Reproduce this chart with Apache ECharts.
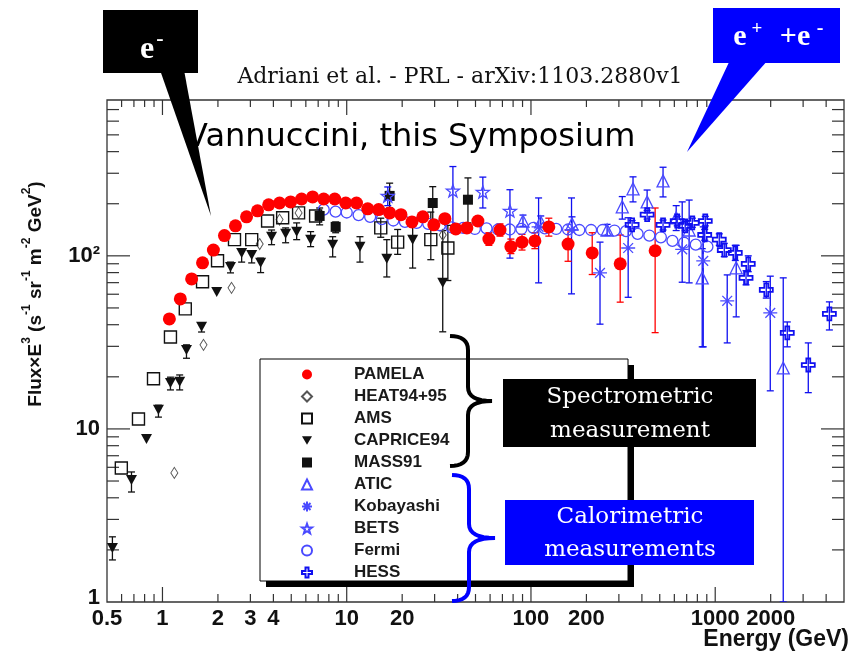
<!DOCTYPE html>
<html><head><meta charset="utf-8">
<script src="https://cdn.jsdelivr.net/npm/echarts@6/dist/echarts.min.js"></script>
<style>html,body{margin:0;padding:0;background:#fff}#c{width:855px;height:654px}</style>
</head><body><div id="c"></div>
<script>
// ---------- axes ----------
const X_MIN = 0.5, X_MAX = 5000, Y_MIN = 1, Y_MAX = 795;
const xMajorTicks = [1, 10, 100, 1000];
const yMajorTicks = [10, 100];
const minorMantissas = [2, 3, 4, 5, 6, 7, 8, 9];
const xTickLabels = [0.5, 1, 2, 3, 4, 10, 20, 100, 200, 1000, 2000];
const yTickLabels = [1, 10, 100];
const yTickText = ['1', '10', '10²'];

// ---------- data (E in GeV, Flux×E³) ----------
const pamelaE = [1.09,1.25,1.44,1.65,1.89,2.17,2.49,2.86,3.28,3.77,4.32,4.96,5.69,6.53,7.50,8.61,9.88,11.3,13.0,14.9,17.1,19.7,22.6,25.9,29.7,34.1,39.1,44.9,51.5,59.1,67.9,77.8,89.4,105,125,159,215,305,472];
const pamelaF = [43.2,56.4,73.6,91.1,108,131,149,168,182,197,202,205,213,219,213,213,202,202,187,185,177,173,157,168,151,164,143,145,159,125,141,113,120,122,147,117,104,89.9,107];
const pamelaLo = [null,null,null,null,null,null,null,null,null,null,null,null,null,null,null,null,null,null,null,null,null,null,null,null,null,null,null,null,null,115,130,103,108,110,130,93,78,54,36];
const pamelaHi = [null,null,null,null,null,null,null,null,null,null,null,null,null,null,null,null,null,null,null,null,null,null,null,null,null,null,null,null,null,136,153,125,133,136,165,141,136,132,189];

const heatE = [1.16,1.67,2.37,3.37,4.32,5.48,33.2];
const heatF = [5.57,30.6,65.3,117,162,177,132];

const amsE = [0.598,0.741,0.894,1.105,1.33,1.65,1.99,2.46,3.05,3.72,4.49,5.48,6.78,15.3,18.9,28.6,35.4];
const amsF = [5.95,11.4,19.5,34.0,49.4,70.8,93.6,124,124,159,166,177,170,145,120,124,111];
const amsLo = [null,null,null,null,null,null,null,null,null,null,null,null,null,128,102,95,72];
const amsHi = [null,null,null,null,null,null,null,null,null,null,null,null,null,165,142,179,150];

const capriceE = [0.535,0.679,0.819,0.951,1.105,1.24,1.35,1.63,1.97,2.34,2.69,3.05,3.41,3.91,4.66,5.35,6.37,8.39,11.8,16.5,22.8,33.2];
const capriceF = [2.05,5.07,8.75,12.9,18.4,18.7,28.6,38.9,61.9,86.3,104,101,91.1,129,134,138,124,116,113,96.1,124,69.8];
const capriceLo = [1.75,4.32,null,11.7,16.8,16.8,25.6,36.3,null,79.7,92,91,80,116,119,124,113,98.6,92,75.5,85,36.4];
const capriceHi = [2.38,5.64,null,13.7,19.9,20.5,30.6,40.9,null,92,109,107,97,141,145,155,138,129,129,124,157,140];

const massE = [7.13,8.71,17.1,29.3,45.5];
const massF = [170,147,222,202,211];
const massLo = [151,136,189,157,155];
const massHi = [189,157,263,251,282];

const aticE = [90.5,113,167,259,313,358,427,521,614,722,850,1300,2340];
const aticF = [159,157,153,141,192,244,205,271,166,141,74.6,85.3,22.5];
const aticLo = [148,146,140,131,163,205,177,219,140,69.8,29.8,44.4,1];
const aticHi = [172,170,168,152,220,286,240,325,195,210,110,115,74.6];

const kobE = [110,166,237,337,662,861,1162,1990];
const kobF = [147,141,79.7,111,109,93.5,55,46.8];
const kobLo = [69.8,60.3,40.3,57.6,70.4,29.8,31.4,16.6];
const kobHi = [216,216,120,166,205,147,77.6,76.3];

const betsE = [16.7,37.7,54.8,76.9];
const betsF = [222,238,234,182];
const betsLo = [195,141,189,97];
const betsHi = [250,328,285,241];

const fermiE = [7.5,8.7,10,11.6,13.4,15.5,17.9,20.7,24,27.7,32.1,37.1,42.9,49.6,57.4,66.3,76.7,88.7,103,119,137,159,183,212,245,284,328,379,439,507,586,678,784,907];
const fermiF = [185,180,178,172,168,163,160,157,155,153,150,146,145,143,144,142,142,143,145,144,143,142,141,141,141,140,139,134,131,128,122,119,116,113];

const hessE = [354,427,521,622,687,751,883,877,1052,1120,1285,1511,1470,1893,2461,3200,4165];
const hessF = [151,173,151,159,149,155,159,132,124,108,104,89.9,74.6,63.6,35.9,23.4,46.2];
const hessLo = [143,163,141,149,140,146,149,123,115,99,94,81,68,57,29.8,16.2,37.3];
const hessHi = [160,183,161,169,158,165,169,142,134,118,115,100,82,71,41.5,31.4,54.2];

const legendNames = ['PAMELA','HEAT94+95','AMS','CAPRICE94','MASS91','ATIC','Kobayashi','BETS','Fermi','HESS'];

// ---------- helpers ----------
const zip = (a, b) => a.map((v, i) => [v, b[i]]);
const errData = (e, lo, hi) => e.map((v, i) => [v, lo[i], hi[i]]).filter(d => d[1] != null);

function minorTicks(lo, hi) {
  const out = [];
  for (let d = 0.1; d < hi; d *= 10) {
    for (const m of minorMantissas) {
      const v = +(m * d).toPrecision(3);
      if (v > lo && v < hi) out.push(v);
    }
  }
  return out;
}

// curly brace outline as a polyline (quadratic corners)
function quad(p0, c, p1, n) {
  const out = [];
  for (let i = 1; i <= n; i++) {
    const t = i / n, u = 1 - t;
    out.push([u * u * p0[0] + 2 * u * t * c[0] + t * t * p1[0], u * u * p0[1] + 2 * u * t * c[1] + t * t * p1[1]]);
  }
  return out;
}
function bracePoints(x0, xv, xTip, yTop, yMid, yBot, r) {
  let pts = [[x0, yTop]];
  pts = pts.concat(quad([x0, yTop], [xv, yTop], [xv, yTop + r], 8));
  pts.push([xv, yMid - r]);
  pts = pts.concat(quad([xv, yMid - r], [xv, yMid], [xTip, yMid], 8));
  pts = pts.concat(quad([xTip, yMid], [xv, yMid], [xv, yMid + r], 8));
  pts.push([xv, yBot - r]);
  pts = pts.concat(quad([xv, yBot - r], [xv, yBot], [x0, yBot], 8));
  return pts;
}

function errSeries(data, color, lw, z) {
  return {
    type: 'custom', silent: true, clip: true, z: z || 2, data: data,
    encode: {x: 0, y: [1, 2]},
    renderItem: function (params, api) {
      const x = api.value(0);
      const lo = Math.max(api.value(1), Y_MIN), hi = api.value(2);
      const a = api.coord([x, hi]), b = api.coord([x, lo]);
      const st = {stroke: color, lineWidth: lw};
      const cap = 3.5;
      return {type: 'group', children: [
        {type: 'line', shape: {x1: a[0], y1: a[1], x2: b[0], y2: b[1]}, style: st},
        {type: 'line', shape: {x1: a[0] - cap, y1: a[1], x2: a[0] + cap, y2: a[1]}, style: st},
        {type: 'line', shape: {x1: b[0] - cap, y1: b[1], x2: b[0] + cap, y2: b[1]}, style: st}
      ]};
    }
  };
}

const BLUE = '#1010f0', LBLUE = '#4a4aff';
const asteriskPath = 'path://M10,0L10,20M0,10L20,10M3,3L17,17M3,17L17,3';
const starPath = 'path://M10,0L12.35,6.76L19.51,6.91L13.8,11.24L15.88,18.09L10,14L4.12,18.09L6.2,11.24L0.49,6.91L7.65,6.76Z';
const plusPath = 'path://M7,0L13,0L13,7L20,7L20,13L13,13L13,20L7,20L7,13L0,13L0,7L7,7Z';
const downTriPath = 'path://M0,0L12,0L6,10Z';

// ticks
const tickData = [];
xMajorTicks.forEach(v => tickData.push([v, Y_MIN, 0, 1]));
minorTicks(X_MIN, X_MAX).filter(v => xMajorTicks.indexOf(v) < 0).forEach(v => tickData.push([v, Y_MIN, 0, 0]));
yMajorTicks.forEach(v => tickData.push([X_MIN, v, 1, 1]));
minorTicks(Y_MIN, Y_MAX).filter(v => yMajorTicks.indexOf(v) < 0).forEach(v => tickData.push([X_MIN, v, 1, 0]));

const labelData = [];
xTickLabels.forEach(v => labelData.push([v, Y_MIN, 0, 0]));
yTickLabels.forEach((v, i) => labelData.push([X_MIN, v, 1, i]));

const LABEL_FONT = 'bold 22px "Liberation Sans", Arial, sans-serif';

const chart = echarts.init(document.getElementById('c'), null, {renderer: 'canvas'});
chart.setOption({
  animation: false,
  backgroundColor: '#fff',
  grid: {left: 107, right: 11, top: 100, bottom: 52, show: true, borderColor: '#333', borderWidth: 1.3, backgroundColor: 'transparent'},
  xAxis: {type: 'log', logBase: 10, min: X_MIN, max: X_MAX, axisLine: {show: false}, axisTick: {show: false}, axisLabel: {show: false}, splitLine: {show: false}},
  yAxis: {type: 'log', logBase: 10, min: Y_MIN, max: Y_MAX, axisLine: {show: false}, axisTick: {show: false}, axisLabel: {show: false}, splitLine: {show: false}},
  legend: {
    data: legendNames, orient: 'vertical', left: 301, top: 366, padding: 0,
    itemWidth: 10, itemHeight: 10, itemGap: 5, z: 5, selectedMode: false,
    textStyle: {fontFamily: '"Liberation Sans", Arial, sans-serif', fontWeight: 'bold', fontSize: 17, color: '#1a1a1a', lineHeight: 14, padding: [0, 0, 0, 37]}
  },
  graphic: [
    {type: 'text', z: 1, x: 460, y: 77, style: {text: 'Adriani et al. - PRL - arXiv:1103.2880v1', font: '22px "DejaVu Serif", serif', fill: '#111', align: 'center', verticalAlign: 'middle'}},
    {type: 'text', z: 1, x: 186, y: 138, style: {text: 'Vannuccini, this Symposium', font: '32px "DejaVu Sans", sans-serif', fill: '#000', align: 'left', verticalAlign: 'middle'}},
    {type: 'text', z: 1, x: 849, y: 640, style: {text: 'Energy (GeV)', font: 'bold 23px "Liberation Sans", Arial, sans-serif', fill: '#111', align: 'right', verticalAlign: 'middle'}},
    {type: 'text', z: 1, x: 33, y: 294, rotation: Math.PI / 2, style: {
      text: '{n|Flux×E}{s|3}{n| (s}{s|-1}{n| sr}{s|-1}{n| m}{s|-2}{n| GeV}{s|2}{n|)}',
      align: 'center', verticalAlign: 'middle', fill: '#111',
      rich: {
        n: {font: 'bold 19px "Liberation Sans", Arial, sans-serif', fill: '#111', lineHeight: 24, verticalAlign: 'bottom'},
        s: {font: 'bold 12px "Liberation Sans", Arial, sans-serif', fill: '#111', lineHeight: 24, verticalAlign: 'top'}
      }}},
    // legend box + shadow
    {type: 'rect', z: 3, shape: {x: 266, y: 365, width: 368, height: 222}, style: {fill: '#000'}},
    {type: 'rect', z: 3, shape: {x: 260, y: 359, width: 368, height: 222}, style: {fill: '#fff', stroke: '#000', lineWidth: 1}},
    // braces
    {type: 'polyline', z: 6, shape: {points: bracePoints(450, 468, 492, 336, 401, 466, 14)}, style: {fill: null, stroke: '#000', lineWidth: 4}},
    {type: 'polyline', z: 6, shape: {points: bracePoints(452, 469, 495, 475, 538, 601, 14)}, style: {fill: null, stroke: '#0000ff', lineWidth: 4}},
    // text boxes
    {type: 'rect', z: 7, shape: {x: 503, y: 379, width: 253, height: 68}, style: {fill: '#000'}},
    {type: 'text', z: 8, x: 630, y: 397, style: {text: 'Spectrometric', font: '23px "DejaVu Serif", serif', fill: '#fff', align: 'center', verticalAlign: 'middle'}},
    {type: 'text', z: 8, x: 630, y: 431, style: {text: 'measurement', font: '23px "DejaVu Serif", serif', fill: '#fff', align: 'center', verticalAlign: 'middle'}},
    {type: 'rect', z: 7, shape: {x: 505, y: 500, width: 249, height: 65}, style: {fill: '#0000ff'}},
    {type: 'text', z: 8, x: 630, y: 517, style: {text: 'Calorimetric', font: '23px "DejaVu Serif", serif', fill: '#fff', align: 'center', verticalAlign: 'middle'}},
    {type: 'text', z: 8, x: 630, y: 550, style: {text: 'measurements', font: '23px "DejaVu Serif", serif', fill: '#fff', align: 'center', verticalAlign: 'middle'}},
    // callouts
    {type: 'polygon', z: 20, shape: {points: [[160, 70], [184, 70], [211, 216]]}, style: {fill: '#000'}},
    {type: 'rect', z: 20, shape: {x: 103, y: 10, width: 95, height: 63}, style: {fill: '#000'}},
    {type: 'text', z: 21, x: 147, y: 50, style: {text: 'e', font: 'bold 32px "Liberation Serif", serif', fill: '#fff', align: 'center', verticalAlign: 'middle'}},
    {type: 'text', z: 21, x: 160, y: 39, style: {text: '-', font: 'bold 22px "Liberation Serif", serif', fill: '#fff', align: 'center', verticalAlign: 'middle'}},
    {type: 'polygon', z: 20, shape: {points: [[730, 60], [768, 60], [687, 152]]}, style: {fill: '#0000ff'}},
    {type: 'rect', z: 20, shape: {x: 713, y: 8, width: 127, height: 55}, style: {fill: '#0000ff'}},
    {type: 'text', z: 21, x: 740, y: 37, style: {text: 'e', font: 'bold 30px "Liberation Serif", serif', fill: '#fff', align: 'center', verticalAlign: 'middle'}},
    {type: 'text', z: 21, x: 757, y: 29, style: {text: '+', font: 'bold 19px "Liberation Serif", serif', fill: '#fff', align: 'center', verticalAlign: 'middle'}},
    {type: 'text', z: 21, x: 795, y: 37, style: {text: '+e', font: 'bold 30px "Liberation Serif", serif', fill: '#fff', align: 'center', verticalAlign: 'middle'}},
    {type: 'text', z: 21, x: 820, y: 29, style: {text: '-', font: 'bold 20px "Liberation Serif", serif', fill: '#fff', align: 'center', verticalAlign: 'middle'}}
  ],
  series: [
    // ticks
    {type: 'custom', silent: true, z: 1, data: tickData, encode: {x: 0, y: 1},
      renderItem: function (params, api) {
        const st = {stroke: '#333', lineWidth: 1.2};
        const major = api.value(3);
        if (api.value(2) === 0) {
          const v = api.value(0);
          const b = api.coord([v, Y_MIN]), t = api.coord([v, Y_MAX]);
          const lb = major ? 15 : 8, lt = major ? 15 : 7;
          return {type: 'group', children: [
            {type: 'line', shape: {x1: b[0], y1: b[1], x2: b[0], y2: b[1] - lb}, style: st},
            {type: 'line', shape: {x1: t[0], y1: t[1], x2: t[0], y2: t[1] + lt}, style: st}]};
        }
        const v = api.value(1);
        const l = api.coord([X_MIN, v]), r = api.coord([X_MAX, v]);
        const len = major ? 23 : 12;
        return {type: 'group', children: [
          {type: 'line', shape: {x1: l[0], y1: l[1], x2: l[0] + len, y2: l[1]}, style: st},
          {type: 'line', shape: {x1: r[0], y1: r[1], x2: r[0] - len, y2: r[1]}, style: st}]};
      }},
    // tick labels
    {type: 'custom', silent: true, z: 1, data: labelData, encode: {x: 0, y: 1},
      renderItem: function (params, api) {
        if (api.value(2) === 0) {
          const v = api.value(0);
          const p = api.coord([v, Y_MIN]);
          return {type: 'text', x: p[0], y: p[1] + 17, style: {text: String(v), font: LABEL_FONT, fill: '#111', align: 'center', verticalAlign: 'middle'}};
        }
        const i = api.value(3);
        const p = api.coord([X_MIN, api.value(1)]);
        return {type: 'text', x: p[0] - 7, y: p[1] + (i === 0 ? -4 : 0), style: {text: yTickText[i], font: LABEL_FONT, fill: '#111', align: 'right', verticalAlign: 'middle'}};
      }},
    // error bars
    errSeries(errData(capriceE, capriceLo, capriceHi), '#111', 1.3),
    errSeries(errData(massE, massLo, massHi), '#111', 1.3),
    errSeries(errData(amsE, amsLo, amsHi), '#111', 1.3),
    errSeries(errData(aticE, aticLo, aticHi), BLUE, 1.3),
    errSeries(errData(kobE, kobLo, kobHi), BLUE, 1.3),
    errSeries(errData(betsE, betsLo, betsHi), BLUE, 1.3),
    errSeries(errData(hessE, hessLo, hessHi), BLUE, 1.3),
    errSeries(errData(pamelaE, pamelaLo, pamelaHi), '#ff0000', 1.3, 3),
    // markers
    {name: 'Fermi', type: 'scatter', z: 3, data: zip(fermiE, fermiF), symbol: 'circle', symbolSize: 11,
      itemStyle: {color: 'rgba(0,0,0,0)', borderColor: LBLUE, borderWidth: 1.3, opacity: 1}},
    {name: 'HEAT94+95', type: 'scatter', z: 3, data: zip(heatE, heatF), symbol: 'diamond', symbolSize: [7, 11],
      itemStyle: {color: 'rgba(0,0,0,0)', borderColor: '#555', borderWidth: 1, opacity: 1}},
    {name: 'AMS', type: 'scatter', z: 3, data: zip(amsE, amsF), symbol: 'rect', symbolSize: 12,
      itemStyle: {color: 'rgba(0,0,0,0)', borderColor: '#111', borderWidth: 1.4, opacity: 1}},
    {name: 'CAPRICE94', type: 'scatter', z: 3, data: zip(capriceE, capriceF), symbol: downTriPath, symbolSize: [11, 10],
      itemStyle: {color: '#111', opacity: 1}},
    {name: 'MASS91', type: 'scatter', z: 3, data: zip(massE, massF), symbol: 'rect', symbolSize: 10,
      itemStyle: {color: '#111', opacity: 1}},
    {name: 'ATIC', type: 'scatter', z: 3, data: zip(aticE, aticF), symbol: 'triangle', symbolSize: 12,
      itemStyle: {color: 'rgba(0,0,0,0)', borderColor: LBLUE, borderWidth: 1.3, opacity: 1}},
    {name: 'Kobayashi', type: 'scatter', z: 3, data: zip(kobE, kobF), symbol: asteriskPath, symbolSize: 14, symbolKeepAspect: true,
      itemStyle: {color: 'rgba(0,0,0,0)', borderColor: LBLUE, borderWidth: 1.3, opacity: 1}},
    {name: 'BETS', type: 'scatter', z: 3, data: zip(betsE, betsF), symbol: starPath, symbolSize: 13, symbolKeepAspect: true,
      itemStyle: {color: 'rgba(0,0,0,0)', borderColor: LBLUE, borderWidth: 1.3, opacity: 1}},
    {name: 'HESS', type: 'scatter', z: 3, data: zip(hessE, hessF), symbol: plusPath, symbolSize: 13, symbolKeepAspect: true,
      itemStyle: {color: 'rgba(0,0,0,0)', borderColor: BLUE, borderWidth: 1.8, opacity: 1}},
    {name: 'PAMELA', type: 'scatter', z: 4, data: zip(pamelaE, pamelaF), symbol: 'circle', symbolSize: 13,
      itemStyle: {color: '#ff0000', opacity: 1}}
  ]
});
</script></body></html>
